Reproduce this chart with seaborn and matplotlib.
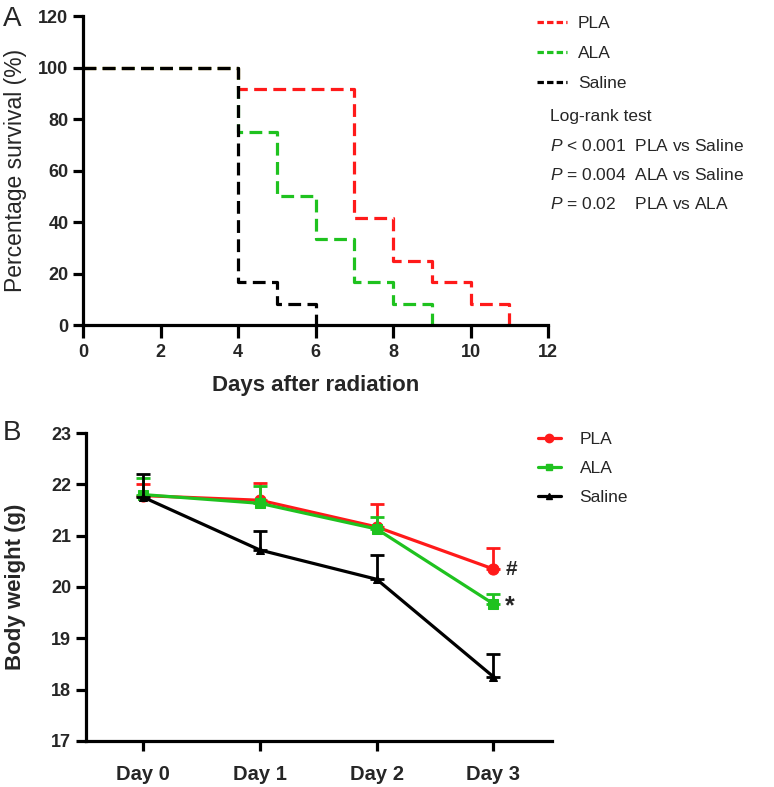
import pandas as pd
import matplotlib
matplotlib.use('Agg')
import matplotlib.pyplot as plt
import seaborn as sns
from matplotlib.lines import Line2D

# ── DATA ──────────────────────────────────────────────────────
groups = ['PLA', 'ALA', 'Saline']
colors = {'PLA': '#ff1a1a', 'ALA': '#1fc21f', 'Saline': '#000000'}

# panel A: Kaplan-Meier steps (day, % survival)
pla_days = [0, 4, 7, 8, 9, 10, 11]
pla_surv = [100, 91.7, 41.7, 25.0, 16.7, 8.3, 0]
ala_days = [0, 4, 5, 6, 7, 8, 9]
ala_surv = [100, 75.0, 50.0, 33.3, 16.7, 8.3, 0]
sal_days = [0, 4, 5, 6]
sal_surv = [100, 16.7, 8.3, 0]

# panel B: body weight (g), mean and upper SEM
day_labels = ['Day 0', 'Day 1', 'Day 2', 'Day 3']
pla_wt = [21.78, 21.69, 21.17, 20.35]
pla_err = [0.22, 0.34, 0.44, 0.40]
ala_wt = [21.80, 21.63, 21.13, 19.67]
ala_err = [0.32, 0.33, 0.23, 0.20]
sal_wt = [21.75, 20.72, 20.15, 18.25]
sal_err = [0.45, 0.38, 0.47, 0.45]

stat_lines = ['Log-rank test',
              r'$\it{P}$ < 0.001  PLA vs Saline',
              r'$\it{P}$ = 0.004  ALA vs Saline',
              r'$\it{P}$ = 0.02    PLA vs ALA']

# ── STYLE ─────────────────────────────────────────────────────
sns.set_theme(style="ticks")
plt.rcParams['font.family'] = ['Liberation Sans', 'DejaVu Sans']
plt.rcParams['mathtext.fontset'] = 'custom'
plt.rcParams['mathtext.it'] = 'Liberation Sans:italic'
plt.rcParams['mathtext.rm'] = 'Liberation Sans'

fig = plt.figure(figsize=(7.74, 7.87), dpi=100)
axA = fig.add_axes([0.1072, 0.587, 0.601, 0.3926])
axB = fig.add_axes([0.111, 0.0585, 0.602, 0.3913])

def style_axis(ax, size):
    for s in ['top', 'right']:
        ax.spines[s].set_visible(False)
    for s in ['left', 'bottom']:
        ax.spines[s].set_linewidth(2.3)
        ax.spines[s].set_color('black')
    ax.tick_params(width=2.3, length=7, labelsize=size, color='black')
    for lab in ax.get_xticklabels() + ax.get_yticklabels():
        lab.set_fontweight('bold')

# ── PANEL A ───────────────────────────────────────────────────
surv = pd.concat([
    pd.DataFrame({'day': pla_days, 'surv': pla_surv, 'group': 'PLA'}),
    pd.DataFrame({'day': ala_days, 'surv': ala_surv, 'group': 'ALA'}),
    pd.DataFrame({'day': sal_days, 'surv': sal_surv, 'group': 'Saline'}),
])
for g in groups:
    sub = surv[surv['group'] == g]
    sns.lineplot(data=sub, x='day', y='surv', ax=axA, color=colors[g],
                 drawstyle='steps-post', estimator=None, linewidth=2.3,
                 linestyle=(0, (4, 2)), clip_on=False)

axA.set_xlim(0, 12)
axA.set_ylim(0, 120)
axA.set_xticks(range(0, 13, 2))
axA.set_yticks(range(0, 121, 20))
axA.set_xlabel('Days after radiation', fontsize=16, fontweight='bold', labelpad=10)
axA.set_ylabel('Percentage survival (%)', fontsize=16.5)
axA.yaxis.set_label_coords(-0.12, 0.5)
style_axis(axA, 13)
axA.tick_params(axis='x', length=9, pad=5)

handlesA = [Line2D([], [], color=colors[g], lw=2.3, linestyle=(0, (2, 1))) for g in groups]
fig.legend(handlesA, groups, loc='upper left', bbox_to_anchor=(537 / 774, 1 - 16 / 787),
           frameon=False, fontsize=12.5, handlelength=1.7, handletextpad=0.65,
           labelspacing=0.84, borderpad=0, borderaxespad=0)
for i, t in enumerate(stat_lines):
    fig.text(0.711, 1 - (117 + i * 29) / 787, t, fontsize=12.5, va='center')
fig.text(0.004, 1 - 19 / 787, 'A', fontsize=20, va='center')

# ── PANEL B ───────────────────────────────────────────────────
markers = {'PLA': 'o', 'ALA': 's', 'Saline': '^'}
msize = {'PLA': 8, 'ALA': 7, 'Saline': 6}
wt = pd.DataFrame({
    'day': list(range(4)) * 3,
    'weight': pla_wt + ala_wt + sal_wt,
    'err': pla_err + ala_err + sal_err,
    'group': ['PLA'] * 4 + ['ALA'] * 4 + ['Saline'] * 4,
})
for g in groups:
    sub = wt[wt['group'] == g]
    axB.errorbar(sub['day'], sub['weight'], yerr=[[0] * 4, sub['err']],
                 fmt='none', ecolor=colors[g], elinewidth=2, capsize=5, capthick=2)
    sns.lineplot(data=sub, x='day', y='weight', ax=axB, color=colors[g],
                 marker=markers[g], markersize=msize[g], markeredgecolor=colors[g],
                 linewidth=2.3, estimator=None)

axB.set_xlim(-0.49, 3.5)
axB.set_ylim(17, 23)
axB.set_xticks(range(4))
axB.set_xticklabels(day_labels)
axB.set_yticks(range(17, 24))
axB.set_xlabel('')
axB.set_ylabel('Body weight (g)', fontsize=16, fontweight='bold')
axB.yaxis.set_label_coords(-0.128, 0.5)
style_axis(axB, 13)
axB.tick_params(axis='x', labelsize=14.5, pad=10)

handlesB = [Line2D([], [], color=colors[g], lw=2.3, marker=markers[g],
                   markersize=msize[g] - 2) for g in groups]
fig.legend(handlesB, groups, loc='upper left', bbox_to_anchor=(538 / 774, 1 - 432 / 787),
           frameon=False, fontsize=12.5, handlelength=1.3, handletextpad=1.1,
           labelspacing=0.8, borderpad=0, borderaxespad=0)
axB.text(3.1, pla_wt[3], '#', fontsize=15, fontweight='bold', va='center')
axB.text(3.1, ala_wt[3] - 0.05, '*', fontsize=18, fontweight='bold', va='center')
fig.text(0.004, 1 - 433 / 787, 'B', fontsize=20, va='center')

plt.savefig('out.png', dpi=100)
plt.close()
